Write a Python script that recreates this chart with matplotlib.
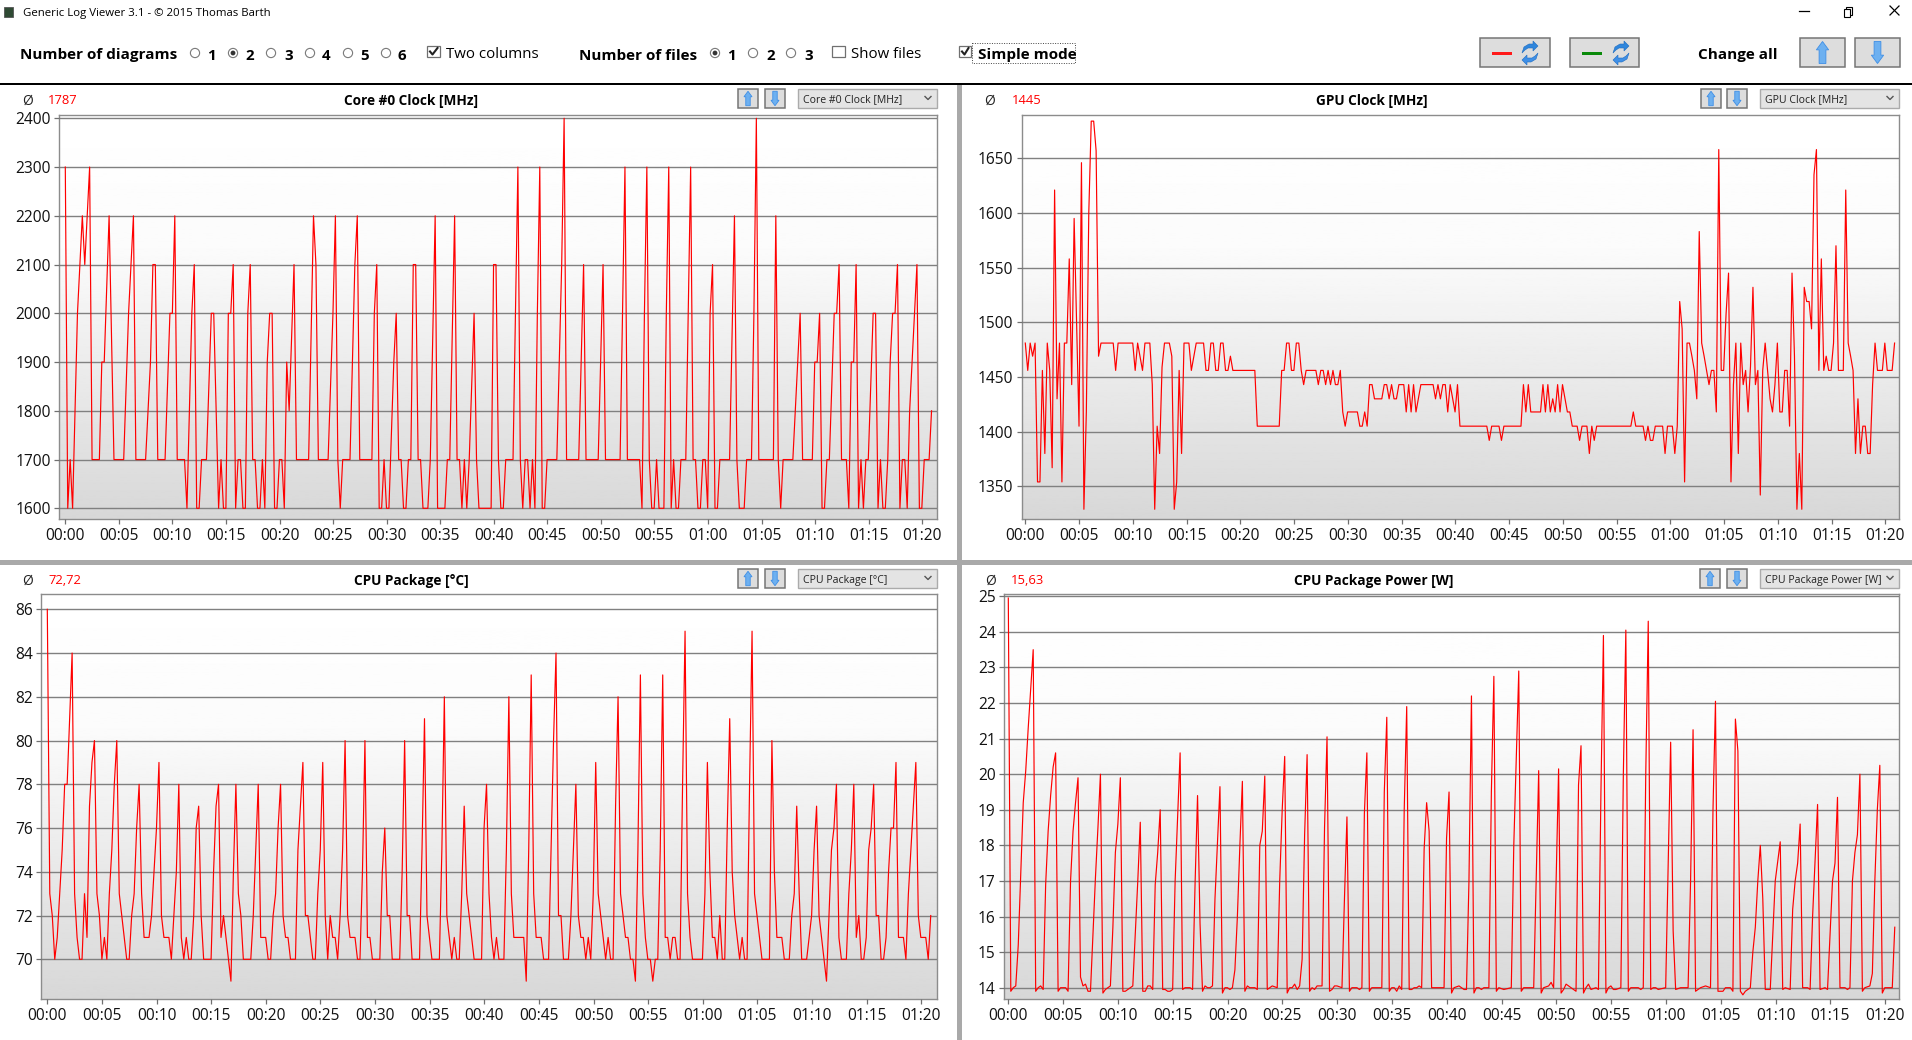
"""
Generic Log Viewer screenshot: four log panels plus the window chrome.
"""
import numpy as np
import matplotlib
matplotlib.use('Agg')
import matplotlib.pyplot as plt
from matplotlib.patches import Rectangle, Circle, Polygon
from matplotlib.ticker import FixedLocator, FixedFormatter

W, H = 1912, 1040
plt.rcParams['font.family'] = ['Open Sans', 'DejaVu Sans']

# ============================================================
# DATA: (sample number, value), flat runs only keep their ends
# ============================================================
core_pts = [(0,2300),(1,1600),(2,1700),(3,1600),(5,2000),(7,2200),(8,2100),(10,2300),(11,1700),(14,1700),(15,1900),(16,1900),
    (18,2200),(20,1700),(24,1700),(26,2000),(28,2200),(29,1700),(33,1700),(35,1900),(36,2100),(37,2100),(38,1700),(41,1700),
    (43,2000),(44,2000),(45,2200),(46,1700),(49,1700),(50,1600),(52,2000),(53,2100),(54,1600),(55,1600),(56,1700),(58,1700),
    (60,2000),(61,2000),(63,1600),(64,1700),(65,1600),(66,1600),(67,2000),(68,2000),(69,2100),(70,1600),(71,1700),(72,1700),
    (73,1600),(74,1600),(75,2000),(76,2100),(77,1700),(78,1700),(79,1600),(80,1600),(81,1700),(82,1600),(83,1900),(84,2000),
    (85,2000),(86,1600),(87,1600),(88,1700),(89,1700),(90,1600),(91,1900),(92,1800),(94,2100),(95,1700),(100,1700),(102,2200),
    (103,2100),(104,1700),(108,1700),(110,2000),(111,2200),(112,1700),(113,1600),(114,1700),(117,1700),(119,2100),(120,2200),
    (121,1700),(126,1700),(127,2000),(128,2100),(129,1600),(130,1600),(131,1700),(132,1600),(133,1600),(135,1900),(136,2000),
    (137,1700),(138,1700),(139,1600),(140,1600),(141,1700),(142,1700),(143,2100),(144,2100),(145,1700),(146,1700),(147,1600),
    (149,1600),(150,1700),(152,2200),(153,1600),(156,1600),(157,1700),(158,1700),(160,2200),(161,1700),(162,1700),(163,1600),
    (164,1700),(165,1600),(166,1700),(168,2000),(169,1700),(170,1600),(175,1600),(176,2100),(177,2100),(178,1700),(179,1600),
    (180,1600),(181,1700),(184,1700),(185,2000),(186,2300),(187,1700),(188,1600),(189,1700),(190,1700),(191,1600),(192,1700),
    (193,1600),(194,2000),(195,2300),(196,1600),(197,1600),(198,1700),(202,1700),(204,2100),(205,2400),(206,1700),(211,1700),
    (213,2100),(214,1700),(219,1700),(221,2100),(222,1700),(228,1700),(229,2000),(230,2300),(231,1700),(236,1700),(237,1600),
    (238,2000),(239,2300),(240,1700),(241,1600),(242,1600),(243,1700),(244,1600),(246,1600),(247,2000),(248,2300),(249,1600),
    (250,1700),(251,1600),(252,1600),(253,1700),(255,1700),(256,2000),(257,2300),(258,1700),(259,1700),(260,1600),(261,1600),
    (262,1700),(263,1700),(264,1600),(265,2000),(266,2100),(267,1600),(268,1600),(269,1700),(273,1700),(275,2200),(276,1700),
    (277,1600),(279,1600),(280,1700),(282,1700),(283,2000),(284,2400),(285,1700),(291,1700),(292,2200),(293,1700),(294,1600),
    (295,1700),(299,1700),(301,1900),(302,2000),(303,1700),(307,1700),(308,1900),(309,1900),(310,2000),(311,1600),(312,1600),
    (313,1700),(314,1700),(316,2000),(317,2000),(318,2100),(319,1700),(321,1700),(322,1600),(323,1900),(324,1900),(325,2100),
    (326,1600),(327,1700),(328,1600),(329,1700),(330,1700),(332,2000),(333,2000),(334,1600),(335,1700),(336,1600),(337,1600),
    (338,1700),(339,1900),(340,2000),(341,2000),(342,2100),(343,1600),(344,1700),(345,1700),(346,1600),(347,1800),(349,2000),
    (350,2100),(351,1600),(352,1600),(353,1700),(355,1700),(356,1800)]

gpu_pts = [(0,1481),(1,1456),(2,1481),(3,1469),(4,1481),(5,1354),(6,1354),(7,1456),(8,1380),(9,1481),(10,1456),(11,1367),
    (12,1621),(13,1430),(14,1481),(15,1354),(16,1481),(17,1481),(18,1558),(19,1443),(20,1595),(21,1500),(22,1405),(23,1646),
    (24,1329),(25,1418),(26,1600),(27,1684),(28,1684),(29,1657),(30,1469),(31,1481),(36,1481),(37,1456),(38,1481),(44,1481),
    (45,1456),(46,1481),(48,1456),(49,1481),(51,1481),(52,1443),(53,1329),(54,1405),(55,1380),(56,1459),(57,1481),(59,1481),
    (60,1469),(61,1329),(62,1354),(63,1456),(64,1380),(65,1481),(67,1481),(68,1456),(70,1481),(73,1481),(74,1456),(75,1456),
    (76,1481),(77,1481),(78,1456),(79,1456),(80,1481),(81,1481),(82,1456),(83,1456),(84,1469),(85,1456),(94,1456),(95,1405),
    (104,1405),(105,1456),(106,1456),(107,1481),(108,1481),(109,1456),(110,1456),(111,1481),(112,1481),(113,1456),(114,1443),
    (115,1456),(119,1456),(120,1443),(121,1456),(122,1456),(123,1443),(124,1456),(125,1443),(126,1456),(127,1443),(128,1443),
    (129,1456),(130,1418),(131,1405),(132,1418),(136,1418),(137,1405),(138,1405),(139,1418),(140,1405),(141,1443),(142,1443),
    (143,1430),(146,1430),(147,1443),(148,1443),(149,1430),(150,1443),(151,1430),(152,1430),(153,1443),(155,1443),(156,1418),
    (157,1443),(158,1418),(159,1443),(160,1418),(162,1443),(167,1443),(168,1430),(169,1443),(170,1430),(171,1443),(172,1443),
    (173,1418),(174,1443),(176,1418),(177,1443),(178,1405),(189,1405),(190,1392),(191,1405),(194,1405),(195,1392),(196,1405),
    (203,1405),(204,1443),(205,1418),(206,1443),(207,1418),(211,1418),(212,1443),(213,1418),(214,1443),(215,1418),(216,1430),
    (217,1418),(218,1443),(219,1418),(220,1443),(222,1418),(223,1418),(224,1405),(226,1405),(227,1392),(228,1405),(230,1405),
    (231,1380),(232,1405),(233,1392),(234,1405),(248,1405),(249,1418),(250,1405),(253,1405),(254,1392),(255,1405),(256,1392),
    (257,1392),(258,1405),(261,1405),(262,1380),(263,1405),(265,1405),(266,1380),(267,1405),(268,1519),(269,1494),(270,1354),
    (271,1481),(272,1481),(273,1469),(274,1456),(275,1430),(276,1583),(277,1481),(278,1469),(279,1456),(280,1443),(281,1456),
    (282,1456),(283,1418),(284,1658),(285,1456),(286,1456),(287,1508),(288,1545),(289,1354),(290,1443),(291,1481),(292,1380),
    (293,1481),(294,1443),(295,1456),(296,1418),(297,1460),(298,1532),(299,1443),(300,1456),(301,1342),(302,1456),(303,1481),
    (304,1456),(305,1430),(306,1418),(307,1443),(308,1481),(309,1418),(310,1418),(311,1456),(312,1456),(313,1405),(314,1545),
    (315,1469),(316,1329),(317,1380),(318,1329),(319,1532),(320,1519),(321,1519),(322,1494),(323,1635),(324,1658),(325,1456),
    (326,1558),(327,1456),(328,1469),(329,1456),(330,1456),(331,1481),(332,1570),(333,1456),(335,1456),(336,1621),(337,1481),
    (338,1469),(339,1456),(340,1380),(341,1430),(342,1380),(343,1405),(344,1405),(345,1380),(346,1380),(347,1443),(348,1481),
    (349,1456),(351,1456),(352,1481),(353,1456),(355,1456),(356,1481)]

temp_pts = [(0,86),(1,73),(2,72),(3,70),(4,71),(5,73),(6,75),(7,78),(8,78),(9,81),(10,84),(11,73),(12,71),(13,70),(14,70),(15,73),
    (16,71),(17,77),(18,79),(19,80),(20,73),(21,72),(22,70),(23,71),(24,70),(25,73),(26,75),(27,78),(28,80),(29,73),(30,72),
    (31,71),(32,70),(33,70),(34,72),(35,73),(36,76),(37,78),(38,73),(39,71),(41,71),(42,72),(43,74),(44,76),(45,79),(46,72),
    (47,71),(49,71),(50,70),(51,72),(52,74),(53,78),(54,71),(55,70),(56,71),(57,70),(58,70),(59,72),(60,76),(61,77),(62,72),
    (63,70),(66,70),(67,74),(68,77),(69,78),(70,71),(71,72),(72,71),(73,70),(74,69),(75,74),(76,78),(77,73),(78,72),(79,70),
    (82,70),(83,72),(84,75),(85,78),(86,71),(88,71),(89,70),(90,70),(91,72),(92,73),(93,76),(94,78),(95,72),(96,71),(97,71),
    (98,70),(100,70),(101,75),(102,77),(103,79),(104,72),(105,72),(106,71),(107,70),(108,70),(109,73),(110,75),(111,79),(112,72),
    (113,70),(114,72),(115,71),(116,71),(117,70),(118,72),(119,75),(120,80),(121,72),(122,71),(124,71),(125,70),(126,70),(127,74),
    (128,80),(129,71),(130,71),(131,70),(134,70),(135,74),(136,76),(137,72),(138,72),(139,70),(142,70),(143,74),(144,80),(145,72),
    (146,72),(147,70),(150,70),(151,75),(152,81),(153,72),(154,71),(155,70),(158,70),(159,75),(160,82),(161,72),(162,71),(163,70),
    (164,71),(165,70),(166,70),(167,73),(168,77),(169,73),(170,72),(171,71),(172,70),(175,70),(176,76),(177,78),(178,73),(179,71),
    (180,70),(181,71),(182,70),(184,70),(185,75),(186,82),(187,73),(188,71),(192,71),(193,69),(194,75),(195,83),(196,73),(197,71),
    (199,71),(200,70),(202,70),(203,75),(204,80),(205,84),(206,72),(207,72),(208,70),(210,70),(211,72),(212,75),(213,78),(214,72),
    (215,71),(216,71),(217,70),(218,71),(219,70),(220,73),(221,79),(222,73),(223,72),(224,71),(225,70),(226,71),(227,70),(228,70),
    (229,77),(230,82),(231,73),(232,72),(233,71),(234,71),(235,70),(236,70),(237,69),(238,75),(239,83),(240,73),(241,71),(242,70),
    (243,70),(244,69),(245,70),(246,70),(247,75),(248,83),(249,71),(250,71),(251,70),(252,71),(253,71),(254,70),(255,70),(256,78),
    (257,85),(258,73),(259,71),(260,70),(264,70),(265,73),(266,79),(267,74),(268,71),(269,71),(270,70),(271,72),(272,70),(273,70),
    (274,76),(275,81),(276,74),(277,72),(278,71),(279,70),(280,71),(281,70),(282,70),(283,78),(284,85),(285,73),(286,72),(288,70),
    (291,70),(292,80),(293,74),(294,71),(296,71),(297,70),(299,70),(300,72),(301,73),(302,77),(303,73),(304,70),(306,70),(307,71),
    (308,72),(309,75),(310,77),(311,72),(312,71),(313,70),(314,69),(315,72),(316,75),(317,76),(318,78),(319,71),(320,70),(322,70),
    (323,73),(324,75),(325,78),(326,71),(327,72),(328,70),(329,70),(330,71),(331,75),(332,76),(333,78),(334,72),(335,72),(336,70),
    (337,70),(338,71),(339,74),(340,76),(341,76),(342,79),(343,71),(345,71),(346,70),(347,73),(348,75),(349,77),(350,79),(351,72),
    (352,71),(354,71),(355,70),(356,72)]

power_pts = [(0,24.95),(1,13.9),(2,14.0),(3,14.05),(4,15.2),(5,17.2),(6,19.2),(7,20.1),(8,21.3),(9,22.4),(10,23.5),(11,13.9),(12,14.0),
    (13,14.05),(14,13.95),(15,16.9),(16,18.4),(17,19.4),(18,20.2),(19,20.6),(20,13.9),(21,14.0),(22,14.0),(23,14.0),(24,13.9),(25,17.0),
    (26,18.4),(27,19.2),(28,19.9),(29,14.3),(30,14.05),(31,14.1),(32,13.9),(33,13.9),(34,15.5),(35,17.1),(36,18.5),(37,20.0),(38,13.85),
    (39,13.95),(40,14.0),(41,14.05),(42,15.7),(43,17.8),(44,18.6),(45,19.9),(46,13.9),(47,13.9),(48,13.95),(49,14.0),(50,14.05),(51,15.5),
    (52,17.0),(53,18.65),(54,13.9),(55,13.9),(56,14.05),(57,14.05),(58,13.95),(59,16.9),(60,17.8),(61,19.0),(62,13.95),(63,13.95),(64,13.9),
    (65,13.9),(66,13.95),(67,17.0),(68,18.8),(69,20.6),(70,13.95),(71,14.0),(73,14.0),(74,13.95),(75,16.9),(76,19.4),(77,15.8),(78,13.9),
    (79,14.05),(80,14.0),(81,14.0),(82,14.05),(83,16.5),(84,18.1),(85,19.65),(86,13.85),(87,14.0),(88,14.0),(89,13.95),(90,14.0),(91,14.5),
    (92,16.0),(93,18.0),(94,19.8),(95,13.9),(96,14.05),(97,14.0),(99,14.0),(100,13.95),(101,18.0),(102,18.4),(103,19.95),(104,13.95),(105,14.0),
    (106,14.05),(108,14.0),(109,17.0),(110,19.0),(111,20.5),(112,13.85),(113,14.0),(114,14.0),(115,14.1),(116,13.95),(117,14.05),(118,14.8),
    (119,18.3),(120,20.55),(121,13.9),(122,14.0),(123,13.95),(124,14.05),(126,14.05),(127,18.5),(128,21.05),(129,13.9),(130,13.95),(131,14.05),
    (132,14.05),(134,14.0),(135,16.5),(136,18.8),(137,13.9),(138,14.0),(140,14.0),(141,13.95),(142,14.0),(143,18.9),(144,20.6),(145,13.9),
    (146,14.0),(150,14.0),(151,19.5),(152,21.6),(153,13.9),(154,14.0),(155,14.0),(156,13.9),(157,14.05),(158,13.95),(159,19.0),(160,21.9),
    (161,13.95),(162,13.95),(163,14.0),(164,14.0),(165,14.05),(166,14.0),(167,17.9),(168,19.2),(169,18.4),(170,14.0),(175,14.0),(176,18.2),
    (177,19.5),(178,13.85),(179,14.0),(181,14.05),(182,14.0),(183,13.95),(184,13.95),(185,17.0),(186,22.2),(187,13.85),(188,14.0),(189,14.0),
    (190,13.95),(191,14.0),(193,14.0),(194,19.5),(195,22.75),(196,13.9),(197,14.0),(199,13.95),(202,14.0),(203,18.0),(204,20.5),(205,22.9),
    (206,13.9),(207,14.0),(208,14.0),(210,14.0),(211,14.0),(212,17.0),(213,20.1),(214,13.85),(215,14.0),(217,14.05),(218,14.15),(219,14.0),
    (220,17.0),(221,20.15),(222,13.85),(223,13.95),(224,14.1),(226,14.0),(227,13.95),(228,13.9),(229,19.7),(230,20.8),(231,13.85),(232,14.0),
    (233,14.1),(234,13.95),(236,14.0),(237,13.95),(238,19.5),(239,23.9),(240,13.85),(241,14.0),(242,14.05),(243,13.95),(244,13.95),(246,14.0),
    (247,20.0),(248,24.05),(249,13.9),(250,14.0),(253,14.0),(254,13.95),(255,14.0),(256,20.0),(257,24.3),(258,13.95),(259,14.0),(260,14.0),
    (261,13.95),(264,14.0),(265,17.5),(266,20.9),(267,15.6),(268,13.95),(270,14.0),(273,14.0),(274,17.0),(275,21.25),(276,13.9),(277,13.95),
    (278,14.0),(280,14.05),(282,14.0),(283,19.0),(284,22.05),(285,13.9),(287,13.9),(288,14.0),(290,14.0),(291,13.9),(292,21.55),(293,20.65),
    (294,13.9),(295,13.8),(296,13.9),(298,14.0),(299,15.0),(300,15.7),(301,17.0),(302,18.0),(303,16.5),(304,13.95),(306,13.95),(307,15.5),(308,17.0),
    (310,18.1),(311,13.95),(312,14.0),(314,13.95),(315,16.2),(316,17.0),(317,17.5),(318,18.6),(319,14.0),(321,14.0),(322,13.95),(323,16.0),
    (324,17.6),(325,19.15),(326,13.95),(328,14.0),(329,13.95),(330,15.5),(331,17.0),(332,17.5),(333,19.35),(334,14.0),(336,14.0),(337,13.95),
    (338,14.0),(339,17.0),(340,17.8),(341,18.3),(342,20.0),(343,13.9),(344,14.0),(346,14.05),(347,14.4),(348,17.0),(349,19.0),(350,20.25),
    (351,13.85),(352,14.0),(353,14.0),(355,14.0),(356,15.7)]

core_ticks = [1600, 1700, 1800, 1900, 2000, 2100, 2200, 2300, 2400]
gpu_ticks = [1350, 1400, 1450, 1500, 1550, 1600, 1650]
temp_ticks = [70, 72, 74, 76, 78, 80, 82, 84, 86]
power_ticks = [14, 15, 16, 17, 18, 19, 20, 21, 22, 23, 24, 25]
time_ticks = list(range(0, 85, 5))
time_labels = ['%02d:%02d' % (t // 60, t % 60) for t in time_ticks]
SAMPLE_STEP = 80 / 352.2   # time units per logged sample

titles = ['Core #0 Clock [MHz]', 'GPU Clock [MHz]', 'CPU Package [°C]', 'CPU Package Power [W]']
averages = ['1787', '1445', '72,72', '15,63']

BLUE_L, BLUE_D = '#6db0f0', '#3f8fe6'
BTN_FACE, BTN_EDGE = '#dddddd', '#757575'

# ============================================================
# FIGURE + CHROME LAYER (pixel coordinates, y down)
# ============================================================
fig = plt.figure(figsize=(W / 100, H / 100), dpi=100, facecolor='white')
ui = fig.add_axes([0, 0, 1, 1], zorder=5)
ui.set_xlim(0, W); ui.set_ylim(H, 0); ui.axis('off'); ui.patch.set_alpha(0)


def label(x, y, s, size=10.8, bold=False, color='black', ha='left'):
    ui.text(x, y, s, fontsize=size, fontweight='bold' if bold else 'normal', color=color,
            ha=ha, va='center_baseline')


def radio(x, y, on=False):
    ui.add_patch(Circle((x, y), 4.6, fc='white', ec='#7a7a7a', lw=0.8))
    if on:
        ui.add_patch(Circle((x, y), 2.4, fc='#333333', ec='none'))


def checkbox(x0, x1, y0, y1, on=True):
    ui.add_patch(Rectangle((x0, y0), x1 - x0, y1 - y0, fc='white', ec='#707070', lw=0.9))
    if on:
        ui.plot([x0 + 3, x0 + 5.5, x1 - 2.5], [(y0 + y1) / 2, y1 - 2.5, y0 + 2], color='#222222', lw=1.5)


def arrow_icon(cx, cy, h, up=True):
    s = -1 if up else 1
    w = h * 0.28
    sh = w * 0.55
    neck = cy + s * h * 0.12
    pts = [(cx - sh, cy - s * h / 2), (cx + sh, cy - s * h / 2), (cx + sh, neck),
           (cx + w, neck), (cx, cy + s * h / 2), (cx - w, neck), (cx - sh, neck)]
    ui.add_patch(Polygon(pts, closed=True, fc=BLUE_L, ec=BLUE_D, lw=0.6))


def arrow_button(x0, x1, y0, y1, up=True):
    ui.add_patch(Rectangle((x0, y0), x1 - x0, y1 - y0, fc=BTN_FACE, ec=BTN_EDGE, lw=1.1))
    arrow_icon((x0 + x1) / 2, (y0 + y1) / 2, (y1 - y0) * 0.76, up)


def refresh_icon(cx, cy):
    # two swooshes, the lower one is the upper turned by 180 degrees
    swoosh = [(-8, 0), (-6, -6), (-1, -9), (3, -9), (3, -12), (8, -7), (3, -2), (3, -5), (-2, -5), (-5, -3)]
    for sign, col in [(1, '#2f86dc'), (-1, '#3f8fe6')]:
        ui.add_patch(Polygon([(cx + sign * a, cy + sign * b) for a, b in swoosh], closed=True,
                             fc=col, ec='#1f6cc0', lw=0.4))


def swap_button(x0, x1, dash_x0, dash_x1, icon_x, color):
    ui.add_patch(Rectangle((x0, 38), x1 - x0, 29, fc=BTN_FACE, ec=BTN_EDGE, lw=1.1))
    ui.add_patch(Rectangle((dash_x0, 51.5), dash_x1 - dash_x0, 3.2, fc=color, ec='none'))
    refresh_icon(icon_x, 53)


# title bar
ui.add_patch(Rectangle((4, 7), 9, 10, fc='#2f4a34', ec='#555555', lw=0.6))
label(23, 12, 'Generic Log Viewer 3.1 - © 2015 Thomas Barth', size=8.2)
ui.plot([1799, 1809], [11, 11], color='black', lw=0.9)
ui.add_patch(Rectangle((1846, 7), 6, 8, fc='none', ec='black', lw=0.8))
ui.add_patch(Rectangle((1844, 9), 6, 8, fc='white', ec='black', lw=0.8))
ui.plot([1890, 1899], [6, 15], color='black', lw=0.9)
ui.plot([1890, 1899], [15, 6], color='black', lw=0.9)

# option row
label(20, 54, 'Number of diagrams', size=11, bold=True)
for i, (rx, tx) in enumerate(zip([195, 233, 271, 310, 348, 386], [211, 249, 288, 326, 364, 402])):
    radio(rx, 53, on=i == 1)
    label(tx - 4, 54, str(i + 1), bold=True)
checkbox(427, 440, 46, 57)
label(446, 53, 'Two columns')
label(579, 54, 'Number of files', size=11, bold=True)
for i, (rx, tx) in enumerate(zip([715, 753, 791], [731, 770, 808])):
    radio(rx, 53, on=i == 0)
    label(tx - 4, 54, str(i + 1), bold=True)
checkbox(832, 845, 46, 57, on=False)
label(851, 53, 'Show files')
checkbox(959, 971, 46, 57)
ui.add_patch(Rectangle((972, 43), 103, 20, fc='none', ec='#444444', lw=0.7, ls=(0, (1, 1.5))))
label(978, 54, 'Simple mode', size=11, bold=True)
swap_button(1480, 1550, 1492, 1512, 1530, '#ff1a1a')
swap_button(1570, 1639, 1582, 1602, 1621, '#0a8a0a')
label(1698, 54, 'Change all', size=11, bold=True)
arrow_button(1800, 1845, 38, 67, up=True)
arrow_button(1855, 1900, 38, 67, up=False)

# separators
ui.add_patch(Rectangle((0, 82.5), W, 2.2, fc='black', ec='none'))
ui.add_patch(Rectangle((957, 85), 5, H - 85, fc='#a9a9a9', ec='none'))
ui.add_patch(Rectangle((0, 560), W, 5, fc='#a9a9a9', ec='none'))

# ============================================================
# PANELS
# ============================================================
gradient = np.interp(np.linspace(0, 1, 256), [0, 0.33, 1], [1.0, 0.985, 0.845]).reshape(-1, 1)

# pixel geometry: axes box, then reference ticks for the scales
panels = [
    dict(pts=core_pts, ticks=core_ticks, box=(59.3, 937.3, 114.7, 519.3), xpx=(65.3, 922.3), ypx=(1600, 508.3, 2400, 118.3)),
    dict(pts=gpu_pts, ticks=gpu_ticks, box=(1021.7, 1899.3, 114.7, 519.3), xpx=(1025.3, 1885.3), ypx=(1350, 486.3, 1650, 158.3)),
    dict(pts=temp_pts, ticks=temp_ticks, box=(41.3, 937.3, 594.3, 999.3), xpx=(47.3, 921.3), ypx=(70, 959.3, 86, 609.3)),
    dict(pts=power_pts, ticks=power_ticks, box=(1004.3, 1899.3, 594.3, 999.3), xpx=(1008.3, 1885.3), ypx=(14, 987.7, 25, 596.3)),
]
headers = [
    dict(phi=28, avg=48, title=411, b1=738, b2=765, combo=(798, 937), y=99, top=89),
    dict(phi=990, avg=1012, title=1372, b1=1701, b2=1727, combo=(1760, 1899), y=99, top=89),
    dict(phi=28, avg=48, title=411, b1=738, b2=765, combo=(798, 937), y=579, top=569),
    dict(phi=991, avg=1011, title=1374, b1=1700, b2=1727, combo=(1760, 1899), y=579, top=569),
]

for p, h, title, avg in zip(panels, headers, titles, averages):
    left, right, top, bottom = p['box']
    ax = fig.add_axes([left / W, 1 - bottom / H, (right - left) / W, (bottom - top) / H])
    ax.imshow(gradient, extent=(0, 1, 0, 1), transform=ax.transAxes, aspect='auto', cmap='gray',
              vmin=0, vmax=1, zorder=0)

    sx = 80 / (p['xpx'][1] - p['xpx'][0])
    ax.set_xlim((left - p['xpx'][0]) * sx, (right - p['xpx'][0]) * sx)
    v0, py0, v1, py1 = p['ypx']
    sy = (v1 - v0) / (py0 - py1)
    ax.set_ylim(v0 - (bottom - py0) * sy, v0 + (py0 - top) * sy)

    idx, vals = zip(*p['pts'])
    ax.plot(np.array(idx) * SAMPLE_STEP, vals, color='#ff0000', lw=0.85, solid_joinstyle='round', zorder=3)

    ax.yaxis.set_major_locator(FixedLocator(p['ticks']))
    ax.xaxis.set_major_locator(FixedLocator(time_ticks))
    ax.xaxis.set_major_formatter(FixedFormatter(time_labels))
    ax.grid(True, axis='y', color='#808080', lw=1.0, zorder=2)
    ax.set_axisbelow(False)
    ax.tick_params(axis='both', labelsize=11.2, length=3.6, width=0.9, color='#707070', labelcolor='#111111', pad=2.5)
    for s in ax.spines.values():
        s.set_color('#8c8c8c'); s.set_linewidth(1.0)

    # header row of the panel
    label(h['phi'], h['y'], 'Ø', size=10, color='#222222', ha='center')
    label(h['avg'], h['y'], avg, size=9.4, color='#ff0000')
    label(h['title'], h['y'], title, size=9.8, bold=True, ha='center')
    arrow_button(h['b1'], h['b1'] + 20, h['top'], h['top'] + 19, up=True)
    arrow_button(h['b2'], h['b2'] + 20, h['top'], h['top'] + 19, up=False)
    cx0, cx1 = h['combo']
    ui.add_patch(Rectangle((cx0, h['top']), cx1 - cx0, 19, fc='#e4e4e4', ec='#ababab', lw=1.0))
    label(cx0 + 5, h['top'] + 9.5, title, size=7.6, color='#222222')
    ui.plot([cx1 - 12, cx1 - 9, cx1 - 6], [h['top'] + 7.5, h['top'] + 10.5, h['top'] + 7.5], color='#555555', lw=1.0)

plt.savefig('out.png', dpi=100)
plt.close()
